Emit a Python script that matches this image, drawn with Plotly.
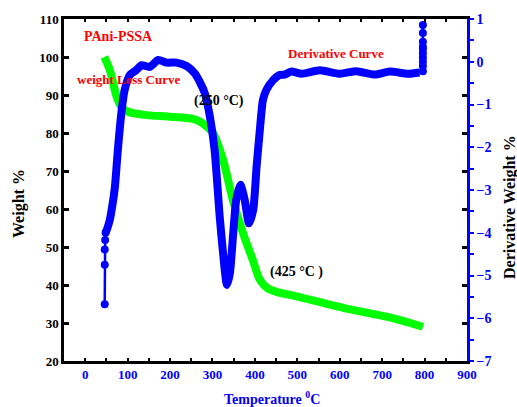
import plotly.graph_objects as go

# ---- data ----
temp_weight = [45, 58, 74, 86, 101, 145, 200, 254, 270, 286, 301, 325, 348, 372,
               395, 411, 428, 451, 498, 608, 725, 796]
weight_pct = [100, 96.6, 89.6, 86.8, 85.6, 84.7, 84.3, 83.7, 83, 81.7, 80, 72.9,
              62.4, 53.6, 46.6, 41.5, 39.3, 38.2, 37, 34, 31.3, 29]

temp_deriv = [48, 52, 58, 66, 70, 77, 86, 93, 105, 121, 133, 152, 172, 192, 215,
              239, 258, 270, 282, 294, 305, 317, 325, 334, 341, 349, 356, 366,
              376, 386, 396, 404, 411, 419, 427, 443, 458, 470, 486, 510, 553,
              600, 639, 682, 718, 761, 788]
deriv_pct = [-4.0, -3.9, -3.7, -3.23, -2.93, -2.06, -1.13, -0.66, -0.31, -0.19,
             -0.08, -0.12, 0.04, -0.02, -0.02, -0.1, -0.27, -0.47, -0.74, -1.29,
             -2.06, -3.62, -4.48, -5.22, -4.95, -4.0, -3.23, -2.88, -3.23, -3.78,
             -3.47, -2.45, -1.67, -0.89, -0.66, -0.43, -0.31, -0.3, -0.23, -0.28,
             -0.2, -0.28, -0.22, -0.3, -0.23, -0.28, -0.25]

temp_deriv_start = [46, 46, 46, 47, 48]
deriv_start = [-5.67, -4.75, -4.39, -4.17, -4.0]

temp_deriv_end = [796, 796, 796, 796, 796, 796, 796, 796, 796, 796]
deriv_end = [-0.22, -0.1, 0.0, 0.1, 0.2, 0.3, 0.35, 0.47, 0.67, 0.86]

FONT = "Liberation Serif"
BLUE = "#0000FF"
GREEN = "#00FF00"
RED = "#FF0000"

fig = go.Figure()

fig.add_trace(go.Scatter(x=temp_weight, y=weight_pct, mode="lines",
                         line=dict(color=GREEN, width=8, shape="spline", smoothing=0.8),
                         yaxis="y", showlegend=False))

fig.add_trace(go.Scatter(x=temp_deriv, y=deriv_pct, mode="lines",
                         line=dict(color=BLUE, width=8, shape="spline", smoothing=0.6),
                         yaxis="y2", showlegend=False))

fig.add_trace(go.Scatter(x=temp_deriv_start, y=deriv_start, mode="lines+markers",
                         line=dict(color=BLUE, width=2.5),
                         marker=dict(color=BLUE, size=8),
                         yaxis="y2", showlegend=False))

fig.add_trace(go.Scatter(x=temp_deriv_end, y=deriv_end, mode="lines+markers",
                         line=dict(color=BLUE, width=2.5),
                         marker=dict(color=BLUE, size=8),
                         yaxis="y2", showlegend=False))

fig.update_layout(
    width=517, height=407,
    margin=dict(l=64, r=50, t=19, b=46),
    paper_bgcolor="white", plot_bgcolor="white",
    font=dict(family=FONT),
    showlegend=False,
    xaxis=dict(range=[-50, 900], tick0=0, dtick=100,
               ticks="inside", ticklen=3, tickwidth=1.5, tickcolor="black",
               minor=dict(dtick=50, ticks="inside", ticklen=3, tickwidth=1.5, tickcolor="black"),
               showline=True, linecolor="black", linewidth=2.5, mirror="allticks",
               showgrid=False, zeroline=False,
               tickfont=dict(family=FONT, size=13, color=BLUE, weight="bold")),
    yaxis=dict(range=[20, 110], tick0=20, dtick=10,
               ticks="inside", ticklen=5, tickwidth=2.5, tickcolor="black",
               showline=True, linecolor="black", linewidth=2.5, mirror="ticks",
               showgrid=False, zeroline=False,
               tickfont=dict(family=FONT, size=13, color="black", weight="bold")),
    yaxis2=dict(range=[-7, 1], tick0=0, dtick=1, overlaying="y", side="right",
                ticks="outside", ticklen=4, tickwidth=1.5, tickcolor=BLUE,
                minor=dict(dtick=0.5, ticks="outside", ticklen=4, tickwidth=1.5, tickcolor=BLUE),
                showline=True, linecolor=BLUE, linewidth=2.5,
                showgrid=False, zeroline=False,
                tickfont=dict(family=FONT, size=14, color=BLUE, weight="bold")),
)

annos = [
    dict(text="<b>PAni-PSSA</b>", x=79, y=105.3, color=RED, size=14),
    dict(text="<b>weight Loss Curve</b>", x=103, y=94, color=RED, size=13),
    dict(text="<b>(250 °C)</b>", x=315, y=88.4, color="black", size=14),
    dict(text="<b>Derivative Curve</b>", x=592, y=100.8, color=RED, size=13),
    dict(text="<b>(425 °C )</b>", x=498, y=43.4, color="black", size=14),
]
for a in annos:
    fig.add_annotation(text=a["text"], x=a["x"], y=a["y"], xref="x", yref="y",
                       showarrow=False, xanchor="center", yanchor="middle",
                       font=dict(family=FONT, size=a["size"], color=a["color"]))

# axis titles
fig.add_annotation(text="<b>Temperature <sup>0</sup>C</b>", xref="paper", yref="paper",
                   x=(272 - 64) / 403, y=(361 - 398) / 342, showarrow=False,
                   xanchor="center", yanchor="middle",
                   font=dict(family=FONT, size=14, color=BLUE))
fig.add_annotation(text="<b>Weight %</b>", xref="paper", yref="paper",
                   x=(19 - 64) / 403, y=(361 - 204) / 342, showarrow=False, textangle=-90,
                   xanchor="center", yanchor="middle",
                   font=dict(family=FONT, size=16, color="black"))
fig.add_annotation(text="<b>Derivative Weight %</b>", xref="paper", yref="paper",
                   x=(510 - 64) / 403, y=(361 - 207) / 342, showarrow=False, textangle=-90,
                   xanchor="center", yanchor="middle",
                   font=dict(family=FONT, size=16, color="black"))

fig.write_html("out.html",
               config={"displayModeBar": False},
               post_script="document.body.style.margin='0px';document.body.style.overflow='hidden';")
